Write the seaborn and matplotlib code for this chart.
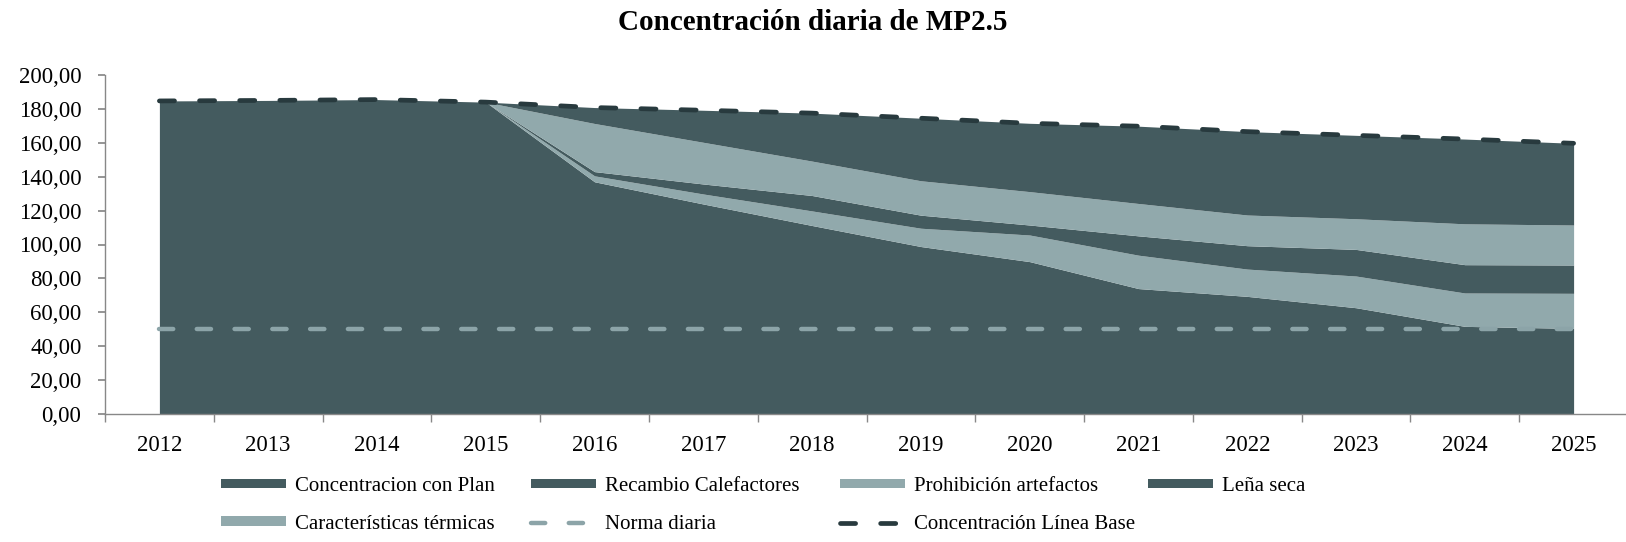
import numpy as np
import seaborn as sns
import matplotlib.pyplot as plt
from matplotlib.patches import Patch
from matplotlib.lines import Line2D
from matplotlib.ticker import FuncFormatter

# values (ug/m3)
years = ['2012', '2013', '2014', '2015', '2016', '2017', '2018',
         '2019', '2020', '2021', '2022', '2023', '2024', '2025']
con_plan = [184.7, 185.0, 185.5, 184.0, 137.0, 123.9, 111.2,
            98.8, 89.9, 74.0, 69.4, 62.7, 51.7, 50.5]
caracteristicas = [0, 0, 0, 0, 3.5, 5.9, 8.6, 10.8, 15.7, 19.7, 16.1, 18.7, 19.7, 20.7]
lena_seca = [0, 0, 0, 0, 2.5, 5.9, 9.1, 7.7, 5.9, 11.4, 13.8, 15.7, 16.7, 16.7]
prohibicion = [0, 0, 0, 0, 28.4, 24.6, 20.3, 20.3, 19.7, 19.1, 18.1, 18.1, 24.1, 23.6]
recambio = [0, 0, 0, 0, 9.4, 18.9, 28.3, 36.9, 40.3, 45.6, 49.2, 49.2, 50.0, 48.2]
linea_base = [184.7, 185.0, 185.5, 184.0, 180.8, 179.2, 177.5,
              174.5, 171.5, 169.8, 166.6, 164.4, 162.2, 159.7]
norma = [50, 50, 50, 50, 50, 50, 50, 50, 50, 50, 50, 50, 50, 50]

dark = '#445b5f'
light = '#91a9ac'
base_color = '#283a3e'
norma_color = '#8ca4a8'
dash = (0, (3.2, 5.3))

sns.set_theme(style='ticks')
plt.rcParams['font.family'] = ['Liberation Serif', 'DejaVu Serif']
plt.rcParams['text.color'] = 'black'

fig = plt.figure(figsize=(16.26, 5.42), dpi=100)
ax = fig.add_axes([105 / 1626, 128 / 542, 1523 / 1626, 339 / 542])

x = np.arange(len(years))
ax.stackplot(x, con_plan, caracteristicas, lena_seca, prohibicion, recambio,
             colors=[dark, light, dark, light, dark], linewidth=0)
sns.lineplot(x=x, y=norma, ax=ax, color=norma_color, linewidth=3.2,
             linestyle=dash, dash_capstyle='round', legend=False)
sns.lineplot(x=x, y=linea_base, ax=ax, color=base_color, linewidth=3.4,
             linestyle=dash, dash_capstyle='round', legend=False)

ax.set_xlim(-0.5, 13.5)
ax.set_ylim(0, 200)
ax.set_xticks(x, years)
ax.set_xticks(np.arange(-0.5, 14), minor=True)
ax.set_yticks(np.arange(0, 201, 20))
ax.yaxis.set_major_formatter(FuncFormatter(lambda v, p: f'{v:.2f}'.replace('.', ',')))
ax.tick_params(axis='x', which='major', length=0, pad=15, labelsize=16.5, labelcolor='black')
ax.tick_params(axis='x', which='minor', length=6, color='#888888')
ax.tick_params(axis='y', length=5, pad=12, labelsize=16.5, color='#888888', labelcolor='black')
ax.set_xlabel('')
ax.set_ylabel('')
sns.despine(ax=ax)
for s in ['left', 'bottom']:
    ax.spines[s].set_color('#888888')
    ax.spines[s].set_linewidth(1)

fig.text(0.5, 1 - 23 / 542, 'Concentración diaria de MP2.5', ha='center', va='center',
         fontsize=21, fontweight='bold', color='black')

h = [Patch(facecolor=dark, edgecolor='none', label='Concentracion con Plan'),
     Patch(facecolor=dark, edgecolor='none', label='Recambio Calefactores'),
     Patch(facecolor=light, edgecolor='none', label='Prohibición artefactos'),
     Patch(facecolor=dark, edgecolor='none', label='Leña seca'),
     Patch(facecolor=light, edgecolor='none', label='Características térmicas'),
     Line2D([], [], color=norma_color, linewidth=3.2, linestyle=dash,
            dash_capstyle='round', label='Norma diaria'),
     Line2D([], [], color=base_color, linewidth=3.4, linestyle=dash,
            dash_capstyle='round', label='Concentración Línea Base')]
columns = [[h[0], h[4]], [h[1], h[5]], [h[2], h[6]], [h[3]]]
col_x = [221, 531, 840, 1148]
for hs, cx in zip(columns, col_x):
    fig.legend(handles=hs, loc='upper left', bbox_to_anchor=(cx / 1626, 1 - 477 / 542),
               frameon=False, fontsize=15, handlelength=3.1, handleheight=0.34,
               handletextpad=0.45, labelspacing=0.9, borderpad=0, borderaxespad=0,
               labelcolor='black')

fig.savefig('out.png', dpi=100, facecolor='white')
